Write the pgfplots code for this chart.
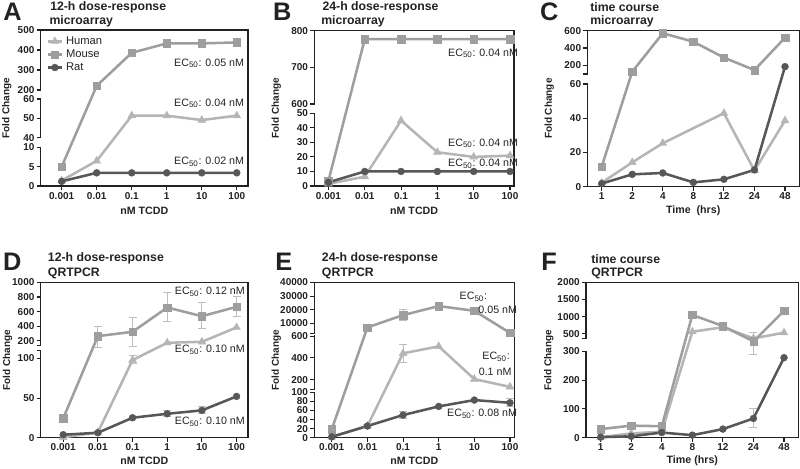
\documentclass[border=0pt]{standalone}
\usepackage{fontspec}
\setmainfont{Liberation Sans}
\usepackage{pgfplots}
\pgfplotsset{compat=1.18}

\definecolor{cmouse}{HTML}{9E9E9E}
\definecolor{chuman}{HTML}{B5B5B5}
\definecolor{crat}{HTML}{575757}
\definecolor{cerr}{HTML}{BEBEBE}
\definecolor{caxis}{HTML}{222222}

% piecewise linear maps for broken y axes (data value -> display height)
\newcommand\Lseg[5]{((#3)+((#1)-(#2))*((#5)-(#3))/((#4)-(#2)))}
\newcommand\PWA[1]{((#1)<=10 ? \Lseg{#1}{0}{0}{10}{38.7} : ((#1)<=40 ? \Lseg{#1}{10}{38.7}{40}{48.3} : ((#1)<=60 ? \Lseg{#1}{40}{48.3}{60}{87} : ((#1)<=200 ? \Lseg{#1}{60}{87}{200}{96} : \Lseg{#1}{200}{96}{500}{156}))))}
\newcommand\PWB[1]{((#1)<=50 ? \Lseg{#1}{0}{0}{50}{72.7} : ((#1)<=600 ? \Lseg{#1}{50}{72.7}{600}{82} : \Lseg{#1}{600}{82}{800}{155.3}))}
\newcommand\PWC[1]{((#1)<=60 ? \Lseg{#1}{0}{0}{60}{102.7} : ((#1)<=100 ? \Lseg{#1}{60}{102.7}{100}{112.7} : \Lseg{#1}{100}{112.7}{600}{156}))}
\newcommand\PWD[1]{((#1)<=110 ? \Lseg{#1}{0}{0}{110}{87.3} : ((#1)<=140 ? \Lseg{#1}{110}{87.3}{140}{92.6} : \Lseg{#1}{140}{92.6}{1000}{155.4}))}
\newcommand\PWE[1]{((#1)<=100 ? \Lseg{#1}{0}{0}{100}{45.4} : ((#1)<=115 ? \Lseg{#1}{100}{45.4}{115}{48.7} : ((#1)<=600 ? \Lseg{#1}{115}{48.7}{600}{101.7} : ((#1)<=2500 ? \Lseg{#1}{600}{101.7}{2500}{104.2} : \Lseg{#1}{2500}{104.2}{40000}{155.4}))))}
\newcommand\PWF[1]{((#1)<=300 ? \Lseg{#1}{0}{0}{300}{86.4} : ((#1)<=350 ? \Lseg{#1}{300}{86.4}{350}{98.9} : \Lseg{#1}{350}{98.9}{2000}{155.4}))}
\newcommand\dotrafo[2]{\begingroup\pgfkeys{/pgf/fpu=true,/pgf/fpu/output format=sci}\pgfmathparse{#2}\edef\x{\fpeval{#1{\pgfmathresult}}}\expandafter\endgroup\expandafter\def\expandafter\pgfmathresult\expandafter{\x}}

\pgfplotsset{
  trafoA/.style={y coord trafo/.code={\dotrafo\PWA{##1}}},
  trafoB/.style={y coord trafo/.code={\dotrafo\PWB{##1}}},
  trafoC/.style={y coord trafo/.code={\dotrafo\PWC{##1}}},
  trafoD/.style={y coord trafo/.code={\dotrafo\PWD{##1}}},
  trafoE/.style={y coord trafo/.code={\dotrafo\PWE{##1}}},
  trafoF/.style={y coord trafo/.code={\dotrafo\PWF{##1}}},
  shortlegend/.style={legend image code/.code={\draw[mark repeat=2,mark phase=2,##1] plot coordinates {(0cm,0cm) (0.19cm,0cm) (0.38cm,0cm)};}},
  panel/.style={
    scale only axis, clip=false, anchor=south west,
    axis line style={caxis, line width=0.8pt},
    tick align=outside, tick pos=left, major tick length=3pt,
    tick style={caxis, line width=0.8pt},
    ticklabel style={font=\bfseries\fontsize{7.5}{8}\selectfont, text=caxis, inner sep=1.5pt},
    xlabel style={font=\bfseries\fontsize{8}{9}\selectfont, text=caxis, at={(axis description cs:0.5,0)}, anchor=center},
    ylabel style={font=\bfseries\fontsize{7.5}{9}\selectfont, text=caxis, anchor=center},
    ymin=0,
  },
  mouse/.style={cmouse, line width=1.9pt, mark=square*, mark size=2.8pt, mark options={solid, line width=0.3pt}},
  human/.style={chuman, line width=1.9pt, mark=triangle*, mark size=3.4pt, mark options={solid, line width=0.3pt}},
  rat/.style={crat, line width=1.9pt, mark=*, mark size=2.6pt, mark options={solid, line width=0.3pt}},
  ebar/.style={cerr, line width=0.7pt, mark=-, mark size=3pt, mark options={line width=0.7pt}, forget plot},
}
\newcommand\eb[3]{\addplot[ebar] coordinates {(#1,#2) (#1,#3)};}
\newcommand\gap[3]{\fill[white] ([xshift=-1.3pt,yshift=0.45pt]axis cs:#1,#2) rectangle ([xshift=1.3pt,yshift=-0.45pt]axis cs:#1,#3);}
\newcommand\btick[2]{\draw[caxis, line width=0.8pt] ([xshift=-3pt]axis cs:#1,#2) -- (axis cs:#1,#2);}

\begin{document}
\begin{tikzpicture}
\useasboundingbox (0,0) rectangle (600pt,-351pt);

% ---------------- A ----------------
\begin{axis}[panel, trafoA, shortlegend, at={(30.5pt,-139.5pt)}, width=155.5pt, height=117pt,
  xmin=-0.6, xmax=5.32, ymax=500,
  xtick={0,...,5}, xticklabels={0.001,0.01,0.1,1,10,100},
  ytick={0,5,10,40,50,60,200,300,400,500}, yticklabels={0,5,10,40,50,60,200,300,400,500},
  xlabel={nM TCDD}, xlabel style={yshift=-18.75pt},
  ylabel={Fold Change}, ylabel style={at={(axis description cs:-0.163,0.5)}},
  legend style={draw=none, fill=none, at={(rel axis cs:0.02,0.985)}, anchor=north west,
    font=\fontsize{8.4}{9}\selectfont, text=caxis, row sep=-1.5pt, inner sep=1pt},
  legend cell align=left]
\addplot[human] coordinates {(0,1.4) (1,6.5) (2,51.4) (3,51.4) (4,49.1) (5,51.4)};
\addplot[mouse] coordinates {(0,5) (1,221) (2,386) (3,433) (4,433) (5,438)};
\addplot[rat] coordinates {(0,1.2) (1,3.4) (2,3.4) (3,3.4) (4,3.4) (5,3.4)};
\legend{Human,Mouse,Rat}
\gap{-0.6}{10}{40}\gap{-0.6}{60}{200}
\end{axis}

% ---------------- B ----------------
\begin{axis}[panel, trafoB, at={(235.7pt,-139.5pt)}, width=149.8pt, height=116.5pt,
  xmin=-0.39, xmax=5.11, ymax=800,
  xtick={0,...,5}, xticklabels={0.001,0.01,0.1,1,10,100},
  ytick={0,10,20,30,40,50,600,700,800}, yticklabels={0,10,20,30,40,50,600,700,800},
  xlabel={nM TCDD}, xlabel style={yshift=-18.75pt},
  ylabel={Fold Change}, ylabel style={at={(axis description cs:-0.19,0.5)}}]
\addplot[human] coordinates {(0,1.5) (1,6.4) (2,45) (3,23.2) (4,20) (5,20.9)};
\addplot[mouse] coordinates {(0,3.5) (1,777) (2,777) (3,777) (4,777) (5,777)};
\addplot[rat] coordinates {(0,2.5) (1,10) (2,10) (3,10) (4,10) (5,10)};
\gap{-0.39}{50}{600}
\end{axis}

% ---------------- C ----------------
\begin{axis}[panel, trafoC, at={(440.5pt,-140pt)}, width=158.8pt, height=117pt,
  xmin=-0.47, xmax=6.46, ymax=600,
  xtick={0,...,6}, xticklabels={1,2,4,8,12,24,48},
  ytick={0,20,40,60,200,400,600}, yticklabels={0,20,40,60,200,400,600},
  xlabel={Time\ \ (hrs)}, xlabel style={yshift=-18.4pt},
  ylabel={Fold Change}, ylabel style={at={(axis description cs:-0.18,0.5)}}]
\addplot[human] coordinates {(0,2.3) (1,14.2) (2,25.4) (4,42.9) (5,9.4) (6,38.6)};
\addplot[mouse] coordinates {(0,11.7) (1,127) (2,570) (3,473) (4,289) (5,145) (6,519)};
\addplot[rat] coordinates {(0,1.8) (1,7.2) (2,8) (3,2.5) (4,4.3) (5,9.8) (6,185)};
\gap{-0.47}{60}{100}\btick{-0.47}{100}
\end{axis}

% ---------------- D ----------------
\begin{axis}[panel, trafoD, at={(30.5pt,-328.3pt)}, width=155.5pt, height=116.5pt,
  xmin=-0.65, xmax=5.33, ymax=1000,
  xtick={0,...,5}, xticklabels={0.001,0.01,0.1,1,10,100},
  ytick={0,50,100,200,400,600,800,1000}, yticklabels={0,50,100,200,400,600,800,1000},
  xlabel={nM TCDD}, xlabel style={yshift=-17.5pt},
  ylabel={Fold Change}, ylabel style={at={(axis description cs:-0.16,0.5)}}]
\eb{1}{128}{400}\eb{2}{130}{514}\eb{3}{460}{861}\eb{4}{370}{719}\eb{5}{528}{801}
\eb{2}{93}{104}\eb{3}{27}{34}\eb{4}{30}{40}
\addplot[human] coordinates {(0,0.5) (1,6.8) (2,97.9) (3,173) (4,186) (5,383)};
\addplot[mouse] coordinates {(0,24.4) (1,264) (2,323) (3,656) (4,537) (5,665)};
\addplot[rat] coordinates {(0,3.8) (1,6.3) (2,25.2) (3,30.2) (4,34.5) (5,52.1)};
\gap{-0.65}{110}{140}\btick{-0.65}{110}\btick{-0.65}{140}
\end{axis}

% ---------------- E ----------------
\begin{axis}[panel, trafoE, at={(235.7pt,-328.3pt)}, width=150pt, height=116.5pt,
  xmin=-0.49, xmax=5.12, ymax=40000,
  xtick={0,...,5}, xticklabels={0.001,0.01,0.1,1,10,100},
  ytick={0,20,40,60,80,100,200,400,600,10000,20000,30000,40000},
  yticklabels={0,20,40,60,80,100,200,400,600,10000,20000,30000,40000},
  xlabel={nM TCDD}, xlabel style={yshift=-17.5pt},
  ylabel={Fold Change}, ylabel style={at={(axis description cs:-0.19,0.5)}}]
\eb{0}{10}{28}\eb{2}{11880}{20450}\eb{3}{20450}{24620}\eb{4}{17900}{20500}
\eb{1}{20}{30}\eb{2}{356}{525}\eb{2}{42}{58}\eb{5}{68}{86}
\addplot[human] coordinates {(0,2) (1,25.8) (2,442) (3,506) (4,206) (5,135)};
\addplot[mouse] coordinates {(0,18.5) (1,7000) (2,16050) (3,22650) (4,19200) (5,3000)};
\addplot[rat] coordinates {(0,2) (1,25.8) (2,50) (3,69) (4,83) (5,77)};
\gap{-0.49}{100}{115}\btick{-0.49}{115}
\gap{-0.49}{600}{2500}\btick{-0.49}{2500}
\end{axis}

% ---------------- F ----------------
\begin{axis}[panel, trafoF, at={(439.5pt,-328.3pt)}, width=159.5pt, height=116.5pt,
  xmin=-0.48, xmax=6.48, ymax=2000,
  xtick={0,...,6}, xticklabels={1,2,4,8,12,24,48},
  ytick={0,100,200,300,500,1000,1500,2000}, yticklabels={0,100,200,300,500,1000,1500,2000},
  xlabel={Time (hrs)}, xlabel style={yshift=-17.5pt},
  ylabel={Fold Change}, ylabel style={at={(axis description cs:-0.175,0.5)}}]
\eb{5}{290}{530}\eb{5}{37}{100}
\addplot[human] coordinates {(0,2) (1,15) (2,21) (3,560) (4,690) (5,365) (6,530)};
\addplot[mouse] coordinates {(0,30) (1,42) (2,40) (3,1050) (4,726) (5,340) (6,1168)};
\addplot[rat] coordinates {(0,2) (1,5) (2,18) (3,9) (4,30) (5,67) (6,278)};
\gap{-0.48}{300}{350}\btick{-0.48}{350}
\end{axis}

% ---------------- texts (pixel units, origin top-left) ----------------
\begin{scope}[x=0.75pt,y=-0.75pt]
\tikzset{lett/.style={font=\bfseries\fontsize{19}{20}\selectfont, text=caxis, inner sep=0pt},
         ttl/.style={anchor=west, font=\bfseries\fontsize{9.2}{10}\selectfont, text=caxis, inner sep=0pt},
         ec/.style={anchor=east, font=\fontsize{8}{9}\selectfont, text=caxis, inner sep=0pt}}
\node[lett] at (12.5,11.7) {A};
\node[lett] at (282.3,11.7) {B};
\node[lett] at (549.3,11.7) {C};
\node[lett] at (12.3,262) {D};
\node[lett] at (283.8,262) {E};
\node[lett] at (549.2,262) {F};
\node[ttl] at (50,7.4) {12-h dose-response};
\node[ttl] at (49.3,21) {microarray};
\node[ttl] at (322.3,7.6) {24-h dose-response};
\node[ttl] at (321,21.7) {microarray};
\node[ttl] at (590,7.4) {time course};
\node[ttl] at (590,21) {microarray};
\node[ttl] at (47.7,258.8) {12-h dose-response};
\node[ttl] at (47.7,273.8) {QRTPCR};
\node[ttl] at (321.7,258.8) {24-h dose-response};
\node[ttl] at (321.7,273.8) {QRTPCR};
\node[ttl] at (591,258.8) {time course};
\node[ttl] at (591,273.8) {QRTPCR};
\node[ec] at (244.3,63.3) {EC\textsubscript{50}: 0.05 nM};
\node[ec] at (244.3,103.3) {EC\textsubscript{50}: 0.04 nM};
\node[ec] at (244.3,161.7) {EC\textsubscript{50}: 0.02 nM};
\node[ec] at (518.3,53.3) {EC\textsubscript{50}: 0.04 nM};
\node[ec] at (518.3,143.3) {EC\textsubscript{50}: 0.04 nM};
\node[ec] at (518.3,164) {EC\textsubscript{50}: 0.04 nM};
\node[ec] at (245,291.7) {EC\textsubscript{50}: 0.12 nM};
\node[ec] at (245,350) {EC\textsubscript{50}: 0.10 nM};
\node[ec] at (245,421.7) {EC\textsubscript{50}: 0.10 nM};
\node[ec] at (487.3,296.7) {EC\textsubscript{50}:};
\node[ec] at (517.3,310) {0.05 nM};
\node[ec] at (510,356.7) {EC\textsubscript{50}:};
\node[ec] at (511.7,371.7) {0.1 nM};
\node[ec] at (517.3,414) {EC\textsubscript{50}: 0.08 nM};
\end{scope}
\end{tikzpicture}
\end{document}
